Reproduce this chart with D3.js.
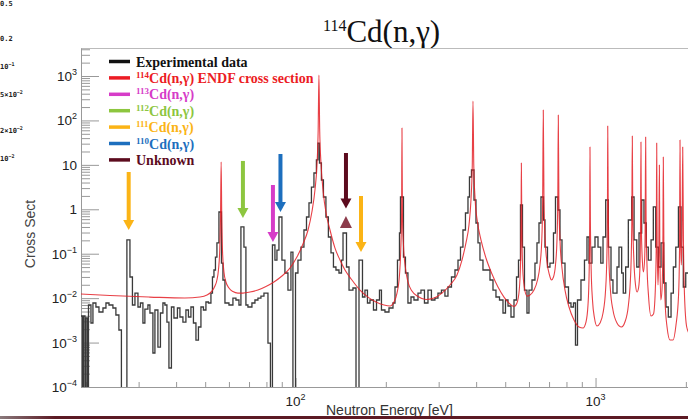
<!DOCTYPE html>
<html>
<head>
<meta charset="utf-8">
<script src="https://d3js.org/d3.v7.min.js"></script>
<style>
body { margin: 0; background: #fff; }
svg { display: block; }
</style>
</head>
<body>
<svg id="chart" width="688" height="419"></svg>
<script>
// measured histogram (left bin edge in eV, cross section), 0 = empty bin
var expEnergy = [19.28, 19.50, 19.65, 19.88, 20.03, 20.26, 20.42, 20.81, 21.13, 21.62,
	22.13, 22.82, 23.35, 23.90, 24.63, 25.20, 25.79, 26.29, 27.42, 28.07,
	28.61, 29.17, 29.85, 30.42, 31.01, 31.48, 32.22, 32.72, 33.48, 34.00,
	34.79, 35.47, 36.15, 36.71, 37.28, 37.86, 38.59, 39.34, 40.41, 41.19,
	42.15, 43.13, 43.97, 44.82, 45.69, 46.58, 47.48, 48.40, 49.34, 50.29,
	51.27, 52.26, 52.87, 53.48, 54.10, 54.72, 55.57, 56.65, 57.30, 58.19,
	60.01, 61.87, 63.31, 64.79, 65.78, 67.32, 68.35, 69.42, 71.58, 73.25,
	74.96, 76.71, 78.50, 80.95, 82.51, 83.78, 85.40, 86.73, 88.07, 90.11,
	92.21, 94.37, 96.56, 98.05, 100.0, 101.9, 104.3, 106.7, 108.8, 110.9,
	113.0, 115.2, 117.4, 118.8, 120.2, 122.0, 123.9, 126.3, 128.7, 131.3,
	133.8, 136.4, 139.6, 142.3, 144.0, 147.9, 150.8, 155.4, 159.1, 162.8,
	167.2, 170.4, 173.7, 177.1, 181.9, 186.2, 190.5, 193.4, 198.7, 204.9,
	211.3, 214.6, 218.7, 222.1, 223.8, 229.0, 232.5, 237.0, 242.6, 248.2,
	256.0, 261.9, 269.0, 276.4, 283.8, 291.6, 298.4, 306.5, 314.8, 322.2,
	331.0, 340.0, 348.0, 354.7, 361.5, 368.5, 375.7, 380.0, 385.9, 393.4,
	399.5, 405.7, 411.9, 421.5, 433.0, 444.8, 455.2, 465.7, 478.5, 491.5,
	501.0, 510.8, 522.6, 534.8, 545.2, 553.6, 562.1, 570.8, 579.6, 590.8,
	600.0, 614.0, 628.2, 638.0, 647.9, 657.8, 670.6, 678.3, 691.5, 704.9,
	724.1, 735.3, 749.6, 761.2, 773.0, 791.0, 812.6, 828.2, 844.3, 857.3,
	870.6, 894.2, 918.5, 936.4, 950.9, 973.0, 995.7, 1019, 1041, 1059,
	1081, 1103, 1126, 1143, 1179, 1197, 1222, 1237, 1260, 1286,
	1320, 1344, 1372, 1396, 1425, 1450, 1476, 1499, 1531, 1558,
	1587, 1619, 1653, 1687, 1717, 1748, 1785, 1817, 1851, 1889,
	1927, 1961, 1998, 2040];
var expXS = [0.00396, 0, 0.00396, 0, 0.00357, 0, 0.00701, 0.00276, 0.00777, 0.00632,
	0.00488, 0.0060, 0.00777, 0.00701, 0.0060, 0.00417, 0.00192, 0, 0.204, 0.0299,
	0.00701, 0.0130, 0.00632, 0.00777, 0.00276, 0.00569, 0.00701, 0.00463, 0.000583, 0.00541,
	0.000793, 0.00463, 0.00777, 0.00701, 0.0029, 0.000268, 0.00632, 0.00357, 0.0060, 0.00376,
	0.0029, 0.00541, 0.00376, 0.00632, 0.00276, 0.00114, 0.00224, 0.00632, 0.00541, 0.00819,
	0.00777, 0.0130, 0.0299, 0.0430, 0.0842, 0.175, 0.869, 0.0617, 0.0256, 0.00777,
	0.00701, 0.0100, 0.00908, 0.00701, 0.400, 0.141, 0.00701, 0.00632, 0.00777, 0.00908,
	0.0100, 0.0111, 0.0130, 0.000976, 0, 0.157, 0.0721, 0.121, 0.671, 0.0721,
	0.0368, 0.0152, 0.109, 0, 0.0368, 0.0721, 0.141, 0.342, 0.671, 1.39,
	3.17, 6.56, 12.9, 31.0, 11.0, 4.56, 1.89, 0.671, 0.238, 0.104,
	0.0502, 0.0430, 0.0368, 0.0721, 0.293, 0.0502, 0.0152, 0.0169, 0, 0.0721,
	0.0106, 0.0152, 0.00777, 0.00908, 0.00541, 0.00908, 0.0152, 0.00541, 0.00488, 0.0060,
	0.00777, 0.0178, 0.0721, 0.293, 1.89, 0.0842, 0.0368, 0.00777, 0.0106, 0.00908,
	0.0130, 0.0152, 0.00777, 0.0152, 0.00908, 0.0100, 0.0130, 0.0152, 0.0111, 0.0178,
	0.0299, 0.0430, 0.0721, 0.141, 0.342, 0.825, 1.89, 5.33, 7.66, 1.62,
	0.491, 0.175, 0.0721, 0.0430, 0.0430, 0.0256, 0.0152, 0.0106, 0.00908, 0.00463,
	0.00908, 0.00665, 0.00376, 0.00908, 0.0299, 0.0721, 1.25, 0.141, 0.0152, 0.00463,
	0.0152, 0.0256, 0.0617, 0.175, 0.491, 1.89, 0.574, 0.141, 0.0502, 0.0617,
	0.293, 1.89, 0.964, 0.204, 0.0617, 0.0178, 0.00777, 0.00632, 0.00777, 0.00088,
	0.00908, 0.0256, 0.0721, 0.238, 0.0617, 0.141, 0.238, 0.141, 0.0617, 0.238,
	1.62, 0.141, 0.0256, 0.0130, 0.0502, 0.141, 0.0368, 0.0130, 0.0502, 0.574,
	1.89, 0.204, 0.0502, 0.293, 1.62, 0.491, 0.141, 0.0721, 0.204, 1.13,
	0.141, 0.0502, 0.175, 0.0219, 0.00632, 0.00376, 0.0130, 0.0502, 0.141, 1.13,
	0.141, 0.0178, 0.0368, 0.0368];

// ENDF 114Cd(n,g) evaluated curve
var endfEnergy = [19.28, 24.07, 32.72, 42.80, 48.03, 50.68, 52.66, 53.89, 54.72, 55.36,
	55.91, 56.26, 56.52, 56.78, 57.13, 57.75, 58.64, 60.01, 61.87, 64.29,
	66.80, 70.49, 74.96, 79.70, 84.75, 90.11, 95.82, 101.1, 105.9, 110.1,
	113.4, 116.1, 117.9, 119.0, 119.7, 120.4, 121.7, 123.7, 126.8, 130.3,
	135.4, 140.7, 146.2, 154.2, 164.0, 174.4, 185.4, 197.2, 206.5, 212.9,
	217.9, 222.1, 224.3, 225.7, 226.4, 227.2, 229.0, 232.5, 237.0, 244.4,
	256.0, 272.1, 289.4, 307.7, 327.2, 345.3, 358.8, 369.9, 378.6, 384.4,
	388.3, 390.4, 392.8, 397.0, 404.1, 415.1, 431.3, 451.7, 473.0, 495.3,
	518.6, 534.8, 547.2, 556.8, 562.1, 564.7, 565.9, 567.7, 571.6, 579.6,
	590.8, 604.6, 623.5, 640.5, 652.8, 661.9, 666.4, 669.6, 673.2, 679.4,
	688.8, 702.2, 713.1, 724.1, 735.3, 743.8, 748.5, 751.4, 754.8, 761.2,
	773.0, 791.0, 815.7, 847.5, 880.7, 908.1, 929.2, 943.7, 952.4, 956.1,
	958.2, 961.2, 967.1, 976.8, 991.8, 1011, 1035, 1059, 1080, 1091,
	1096, 1098, 1102, 1107, 1121, 1143, 1179, 1220, 1253, 1287,
	1311, 1321, 1326, 1331, 1342, 1359, 1375, 1391, 1405, 1412,
	1417, 1422, 1433, 1444, 1458, 1464, 1469, 1474, 1484, 1501,
	1531, 1560, 1582, 1594, 1599, 1604, 1615, 1625, 1632, 1638,
	1650, 1665, 1677, 1682, 1689, 1704, 1731, 1771, 1812, 1854,
	1891, 1905, 1912, 1921, 1931, 1942, 1952, 1963, 1979, 2013,
	2064];
var endfXS = [0.01235, 0.01143, 0.01057, 0.01004, 0.01057, 0.01173, 0.01443, 0.01875, 0.0256, 0.0430,
	0.121, 0.744, 11.6, 0.744, 0.109, 0.0388, 0.0231, 0.0169, 0.01406, 0.0130,
	0.0130, 0.0137, 0.0152, 0.01827, 0.0231, 0.0315, 0.0476, 0.0842, 0.166, 0.342,
	0.869, 2.72, 9.95, 60.8, 1053, 60.8, 9.95, 2.45, 0.744, 0.342,
	0.134, 0.0721, 0.0430, 0.0256, 0.0152, 0.01057, 0.00819, 0.00701, 0.00665, 0.00819,
	0.0130, 0.0332, 0.121, 0.744, 67.5, 0.744, 0.157, 0.0476, 0.0231, 0.01443,
	0.01085, 0.00929, 0.01004, 0.0130, 0.01975, 0.0332, 0.0721, 0.175, 0.443, 1.62,
	9.95, 273.5, 9.95, 1.62, 0.517, 0.204, 0.0800, 0.0349, 0.0178, 0.01057,
	0.00738, 0.00648, 0.00777, 0.0152, 0.0556, 0.574, 11.0, 0.574, 0.0476, 0.0169,
	0.0111, 0.01173, 0.0152, 0.0256, 0.0556, 0.204, 1.62, 171, 1.62, 0.204,
	0.065, 0.0332, 0.0256, 0.0299, 0.0556, 0.204, 1.62, 132.4, 1.62, 0.204,
	0.0476, 0.0152, 0.00632, 0.00322, 0.00224, 0.00213, 0.0029, 0.00701, 0.0430, 0.574,
	25.2, 0.574, 0.0430, 0.00908, 0.00357, 0.00236, 0.00276, 0.00463, 0.0152, 0.0934,
	1.62, 74.9, 1.62, 0.0934, 0.0152, 0.00541, 0.00276, 0.00224, 0.0029, 0.00701,
	0.0430, 0.574, 44.6, 0.574, 0.0721, 0.01975, 0.0137, 0.0169, 0.0430, 0.342,
	32.7, 0.342, 0.065, 0.0388, 0.080, 0.574, 42.3, 0.574, 0.0556, 0.01173,
	0.00396, 0.0044, 0.0152, 0.204, 31.0, 0.204, 0.01975, 0.121, 9.95, 0.121,
	0.00908, 0.0152, 0.204, 15.0, 0.204, 0.00908, 0.00224, 0.00114, 0.00114, 0.00248,
	0.01173, 0.121, 36.2, 0.204, 0.0556, 0.204, 25.2, 0.204, 0.01173, 0.00224,
	0.00148];

// legend
var legendSup = ["", "114", "113", "112", "111", "110", ""];
var legendText = ["Experimental data", "Cd(n,\u03b3) ENDF cross section", "Cd(n,\u03b3)",
	"Cd(n,\u03b3)", "Cd(n,\u03b3)", "Cd(n,\u03b3)", "Unknown"];
var legendColors = ["#111111", "#ec1c24", "#d63cc8", "#8dc63f", "#fbb416", "#1d6fbe", "#5c0b1e"];

// isotope arrows (energy, top and tip in cross-section units)
var arrowEnergy = [27.8, 66.8, 84.1, 89.1, 147.3, 165.3];
var arrowTop = [6.91, 12.25, 3.52, 17.55, 18.5, 1.99];
var arrowTip = [0.342, 0.637, 0.184, 0.869, 1.04, 0.109];
var arrowColors = ["#fbb416", "#8dc63f", "#d63cc8", "#1d6fbe", "#5c0b1e", "#fbb416"];
var markerEnergy = 147.3, markerTop = 0.706, markerBase = 0.379;

// axis labels
var yMajor = [1e-4, 1e-3, 1e-2, 1e-1, 1, 10, 100, 1000];
var xMajor = [100, 1000];

var svg = d3.select("#chart");
var plot = { left: 81, right: 688, top: 48, bottom: 387 };

var x = d3.scaleLog()
	.domain([19.28, 2033])
	.range([plot.left, plot.right]);

var y = d3.scaleLog()
	.domain([1e-4, 4270])
	.range([plot.bottom, plot.top]);

function yv(v) {
	// empty bins fall to the bottom of the frame
	return v > 0 ? y(v) : y(1e-5);
}

svg.append("rect")
	.attr("width", 688)
	.attr("height", 419)
	.attr("fill", "#fff");

// stray labels from the neighbouring slide plot
var corner = [["0.5", ""], ["0.2", ""], ["10", "\u22121"], ["5\u00d710", "\u22122"], ["2\u00d710", "\u22122"], ["10", "\u22122"]];
var cornerY = [6, 41, 69, 97, 133, 161];
corner.forEach(function(c, i) {
	var t = svg.append("text")
		.attr("x", 0)
		.attr("y", cornerY[i])
		.attr("font-family", "DejaVu Sans Mono, monospace")
		.attr("font-weight", "bold")
		.attr("font-size", 7)
		.attr("fill", "#222");
	t.append("tspan").text(c[0]);
	if (c[1]) t.append("tspan").attr("font-size", 5).attr("dy", -3).text(c[1]);
});

// title
var title = svg.append("text")
	.attr("x", 323)
	.attr("y", 42)
	.attr("font-family", "Liberation Serif, Times New Roman, serif")
	.attr("fill", "#111");
title.append("tspan").attr("font-size", 16).attr("dy", -11).text("114");
title.append("tspan").attr("font-size", 31).attr("dy", 11).text("Cd(n,\u03b3)");

// frame
svg.append("line")
	.attr("x1", plot.left).attr("x2", plot.right)
	.attr("y1", plot.top + 0.5).attr("y2", plot.top + 0.5)
	.attr("stroke", "#bbb");

var yMinor = y.ticks().filter(function(d) { return yMajor.indexOf(d) < 0; });
var xMinor = x.ticks().filter(function(d) { return xMajor.indexOf(d) < 0; });

svg.append("g")
	.attr("transform", "translate(" + plot.left + ",0)")
	.call(d3.axisRight(y).tickValues(yMinor).tickSize(9).tickSizeOuter(0).tickFormat(""))
	.call(function(g) { g.select(".domain").remove(); });

svg.append("g")
	.attr("transform", "translate(" + plot.left + ",0)")
	.call(d3.axisRight(y).tickValues(yMajor).tickSize(18).tickSizeOuter(0).tickFormat(""));

svg.append("g")
	.attr("transform", "translate(0," + plot.bottom + ")")
	.call(d3.axisTop(x).tickValues(xMinor).tickSize(5).tickSizeOuter(0).tickFormat(""))
	.call(function(g) { g.select(".domain").remove(); });

svg.append("g")
	.attr("transform", "translate(0," + plot.bottom + ")")
	.call(d3.axisTop(x).tickValues(xMajor).tickSize(9).tickSizeOuter(0).tickFormat(""));

svg.selectAll(".tick line").attr("stroke", "#999");
svg.selectAll(".domain").attr("stroke", "#999");

// tick labels
yMajor.forEach(function(v) {
	var e = Math.round(Math.log10(v));
	var t = svg.append("text")
		.attr("x", 77)
		.attr("y", y(v) + 5)
		.attr("text-anchor", "end")
		.attr("font-family", "Liberation Sans, Arial, sans-serif")
		.attr("font-size", 13.5)
		.attr("fill", "#222");
	if (e === 0) t.text("1");
	else if (e === 1) t.text("10");
	else {
		t.append("tspan").text("10");
		t.append("tspan").attr("font-size", 9).attr("dy", -6).text(e < 0 ? "\u2212" + (-e) : e);
	}
});

xMajor.forEach(function(v) {
	var t = svg.append("text")
		.attr("x", x(v))
		.attr("y", 406)
		.attr("text-anchor", "middle")
		.attr("font-family", "Liberation Sans, Arial, sans-serif")
		.attr("font-size", 13.5)
		.attr("fill", "#222");
	t.append("tspan").text("10");
	t.append("tspan").attr("font-size", 9).attr("dy", -6).text(Math.round(Math.log10(v)));
});

svg.append("text")
	.attr("x", 326)
	.attr("y", 415)
	.attr("font-family", "Liberation Sans, Arial, sans-serif")
	.attr("font-size", 14)
	.attr("fill", "#333")
	.text("Neutron Energy [eV]");

svg.append("text")
	.attr("transform", "translate(35,234) rotate(-90)")
	.attr("text-anchor", "middle")
	.attr("font-family", "Liberation Sans, Arial, sans-serif")
	.attr("font-size", 14)
	.attr("fill", "#444")
	.text("Cross Sect");

// data
svg.append("clipPath")
	.attr("id", "clip")
	.append("rect")
	.attr("x", plot.left)
	.attr("y", plot.top)
	.attr("width", plot.right - plot.left)
	.attr("height", plot.bottom - plot.top);

var g = svg.append("g").attr("clip-path", "url(#clip)");

var expData = expEnergy.map(function(e, i) { return [e, expXS[i]]; });
var endfData = endfEnergy.map(function(e, i) { return [e, endfXS[i]]; });

var stepLine = d3.line()
	.x(function(d) { return x(d[0]); })
	.y(function(d) { return yv(d[1]); })
	.curve(d3.curveStepAfter);

var endfLine = d3.line()
	.x(function(d) { return x(d[0]); })
	.y(function(d) { return y(d[1]); })
	.curve(d3.curveMonotoneX);

g.append("path")
	.datum(expData)
	.attr("fill", "none")
	.attr("stroke", "#3a3a3a")
	.attr("stroke-width", 1.3)
	.attr("d", stepLine);

g.append("path")
	.datum(endfData)
	.attr("fill", "none")
	.attr("stroke", "#e41e26")
	.attr("stroke-opacity", 0.85)
	.attr("stroke-width", 1.1)
	.attr("stroke-linejoin", "round")
	.attr("d", endfLine);

// arrows
arrowEnergy.forEach(function(e, i) {
	var ax = x(e), y0 = y(arrowTop[i]), y1 = y(arrowTip[i]);
	svg.append("line")
		.attr("x1", ax).attr("x2", ax)
		.attr("y1", y0).attr("y2", y1 - 9)
		.attr("stroke", arrowColors[i])
		.attr("stroke-width", 4);
	svg.append("path")
		.attr("d", "M" + (ax - 5.5) + "," + (y1 - 10) + "L" + (ax + 5.5) + "," + (y1 - 10) + "L" + ax + "," + y1 + "Z")
		.attr("fill", arrowColors[i]);
});

var mx = x(markerEnergy), mt = y(markerTop), mb = y(markerBase);
svg.append("path")
	.attr("d", "M" + (mx - 6) + "," + mb + "L" + (mx + 6) + "," + mb + "L" + mx + "," + mt + "Z")
	.attr("fill", "#8c3b4b");

// legend
var legend = svg.append("g");
legendText.forEach(function(txt, i) {
	var cy = 61.5 + i * 16.4;
	legend.append("line")
		.attr("x1", 109).attr("x2", 130)
		.attr("y1", cy).attr("y2", cy)
		.attr("stroke", legendColors[i])
		.attr("stroke-width", 3.5);
	var t = legend.append("text")
		.attr("x", 136)
		.attr("y", cy + 5)
		.attr("font-family", "Liberation Serif, Times New Roman, serif")
		.attr("font-weight", "bold")
		.attr("font-size", 14)
		.attr("fill", legendColors[i]);
	if (legendSup[i]) {
		t.append("tspan").attr("font-size", 9).attr("dy", -5).text(legendSup[i]);
		t.append("tspan").attr("dy", 5).text(txt);
	} else {
		t.text(txt);
	}
});

// slide footer band
var grad = svg.append("defs").append("linearGradient")
	.attr("id", "band")
	.attr("x1", 0).attr("x2", 1).attr("y1", 0).attr("y2", 0);
grad.append("stop").attr("offset", "0").attr("stop-color", "#8a7a7c");
grad.append("stop").attr("offset", "0.08").attr("stop-color", "#5c1a24");
grad.append("stop").attr("offset", "1").attr("stop-color", "#5c1a24");

svg.append("rect")
	.attr("x", 0)
	.attr("y", 416)
	.attr("width", 688)
	.attr("height", 3)
	.attr("fill", "url(#band)");
</script>
</body>
</html>
